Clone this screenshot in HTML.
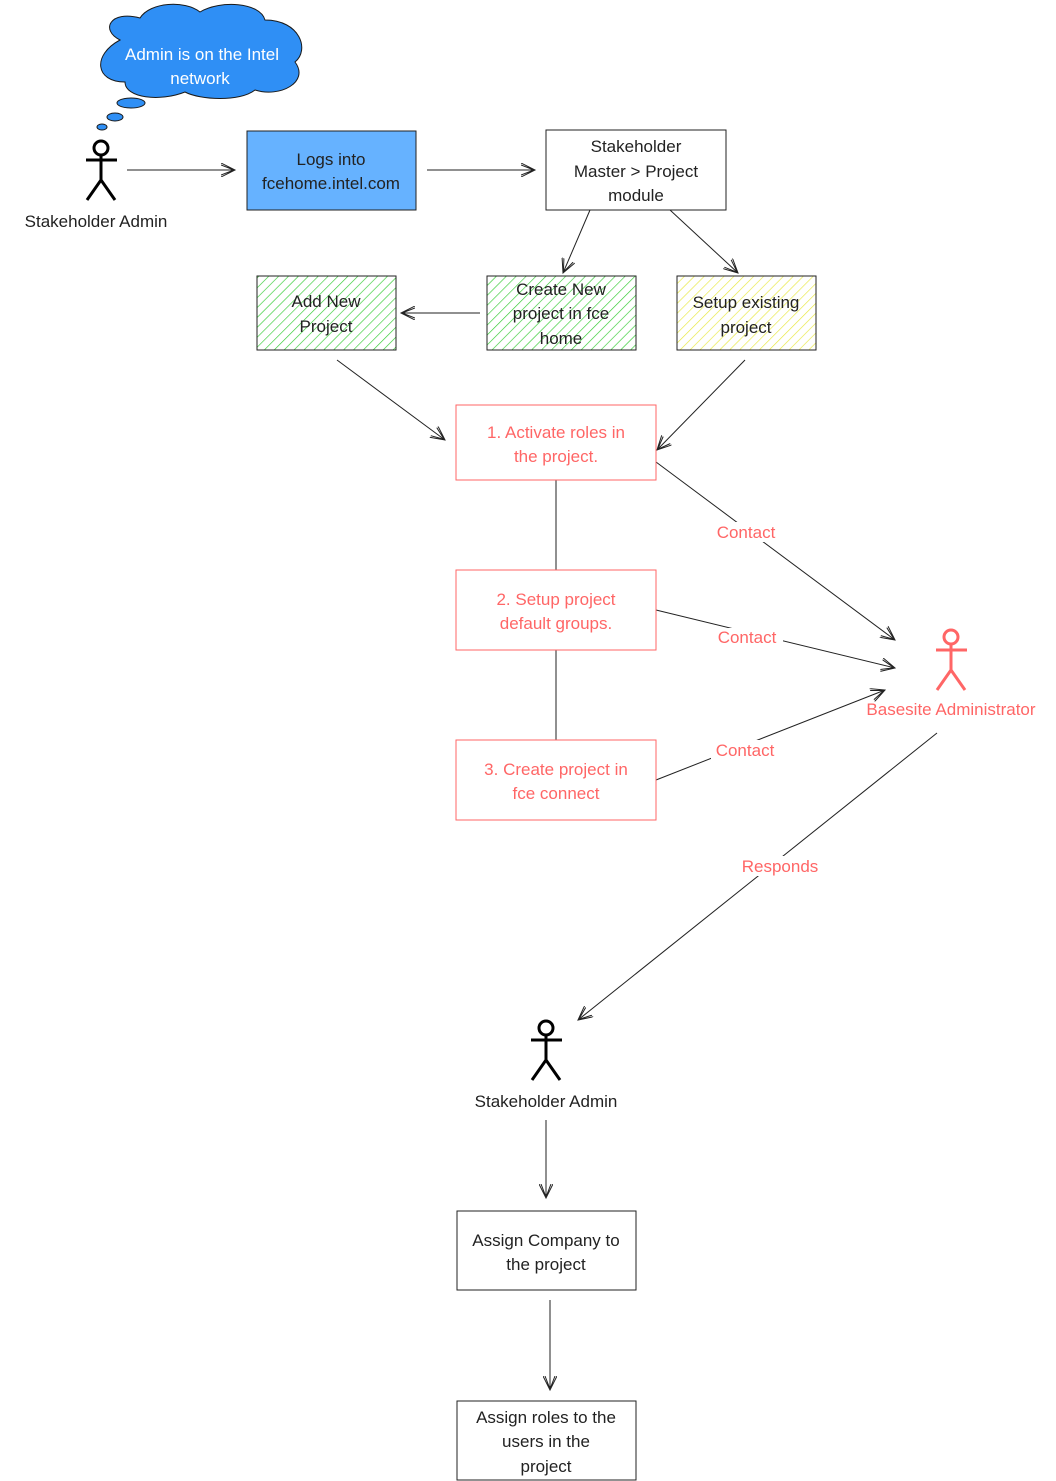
<!DOCTYPE html>
<html><head><meta charset="utf-8"><style>
html,body{margin:0;padding:0;background:#fff}
svg{display:block}
text{font-family:"Liberation Sans",sans-serif;font-size:17px;text-anchor:middle}
</style></head><body>
<svg width="1056" height="1481" viewBox="0 0 1056 1481" xmlns="http://www.w3.org/2000/svg">
<defs>
<pattern id="g" width="7" height="7" patternUnits="userSpaceOnUse" patternTransform="rotate(45)">
<rect width="7" height="7" fill="#fff"/><line x1="0" y1="0" x2="0" y2="7" stroke="#33cc33" stroke-width="1.3"/></pattern>
<pattern id="y" width="7" height="7" patternUnits="userSpaceOnUse" patternTransform="rotate(45)">
<rect width="7" height="7" fill="#fff"/><line x1="0" y1="0" x2="0" y2="7" stroke="#e8e840" stroke-width="1.3"/></pattern>
<marker id="a" markerWidth="16" markerHeight="14" refX="14" refY="7" orient="auto" markerUnits="userSpaceOnUse">
<path d="M0,0 L14,7 L0,14 M0,2 L13,7 L0,12" fill="none" stroke="#222" stroke-width="1"/></marker>
</defs>
<g fill="#2f8ff5" stroke="#1a1a1a" stroke-width="1">
<path d="M120,40 C100,30 110,10 140,18 C150,2 185,0 200,12 C220,0 260,2 265,20 C300,20 310,50 295,62 C310,82 280,98 255,90 C240,102 200,100 185,92 C160,102 125,98 125,82 C95,82 92,55 120,40 Z"/>
<ellipse cx="131" cy="103" rx="14" ry="5"/><ellipse cx="115" cy="117" rx="8" ry="4"/><ellipse cx="102" cy="127" rx="5" ry="3"/>
</g>
<text x="202" y="60" fill="#fff">Admin is on the Intel</text>
<text x="200" y="84" fill="#fff">network</text>
<g stroke="#000" stroke-width="3" fill="none"><circle cx="101" cy="148" r="7"/><path d="M101,155 V180 M86,160 H117 M101,180 L87,200 M101,180 L115,200"/></g>
<text x="96" y="227" fill="#222">Stakeholder Admin</text>
<g stroke="#222" stroke-width="1" fill="none" marker-end="url(#a)">
<path d="M127,170 H235"/><path d="M427,170 H535"/>
<path d="M590,210 L563,273"/><path d="M670,210 L738,273"/>
<path d="M480,313 H401"/><path d="M337,360 L445,440"/><path d="M745,360 L657,450"/>
<path d="M656,462 L895,640"/><path d="M656,610 L895,668"/><path d="M656,780 L885,690"/>
<path d="M937,733 L578,1020"/><path d="M546,1120 V1198"/><path d="M550,1300 V1390"/>
<path d="M556,480 V570" marker-end="none"/><path d="M556,650 V740" marker-end="none"/>
</g>
<rect x="247" y="131" width="169" height="79" fill="#66b2ff" stroke="#222"/>
<text x="331" y="165" fill="#222">Logs into</text><text x="331" y="189" fill="#222">fcehome.intel.com</text>
<rect x="546" y="130" width="180" height="80" fill="#fff" stroke="#222"/>
<text x="636" y="152" fill="#222">Stakeholder</text><text x="636" y="177" fill="#222">Master &gt; Project</text><text x="636" y="201" fill="#222">module</text>
<rect x="257" y="276" width="139" height="74" fill="url(#g)" stroke="#222"/>
<text x="326" y="307" fill="#222">Add New</text><text x="326" y="332" fill="#222">Project</text>
<rect x="487" y="276" width="149" height="74" fill="url(#g)" stroke="#222"/>
<text x="561" y="295" fill="#222">Create New</text><text x="561" y="319" fill="#222">project in fce</text><text x="561" y="344" fill="#222">home</text>
<rect x="677" y="276" width="139" height="74" fill="url(#y)" stroke="#222"/>
<text x="746" y="308" fill="#222">Setup existing</text><text x="746" y="333" fill="#222">project</text>
<g fill="#fff" stroke="#ff6666"><rect x="456" y="405" width="200" height="75"/><rect x="456" y="570" width="200" height="80"/><rect x="456" y="740" width="200" height="80"/></g>
<g fill="#ff6666">
<text x="556" y="438">1. Activate roles in</text><text x="556" y="462">the project.</text>
<text x="556" y="605">2. Setup project</text><text x="556" y="629">default groups.</text>
<text x="556" y="775">3. Create project in</text><text x="556" y="799">fce connect</text>
</g>
<g fill="#fff"><rect x="712" y="522" width="70" height="20"/><rect x="713" y="628" width="70" height="20"/><rect x="711" y="740" width="70" height="20"/><rect x="740" y="856" width="82" height="20"/></g>
<g fill="#ff6666">
<text x="746" y="538">Contact</text><text x="747" y="643">Contact</text><text x="745" y="756">Contact</text><text x="780" y="872">Responds</text>
</g>
<g stroke="#ff6666" stroke-width="3" fill="none"><circle cx="951" cy="637" r="7"/><path d="M951,644 V670 M936,650 H967 M951,670 L937,690 M951,670 L965,690"/></g>
<text x="951" y="715" fill="#ff6666">Basesite Administrator</text>
<g stroke="#000" stroke-width="3" fill="none"><circle cx="546" cy="1028" r="7"/><path d="M546,1035 V1060 M531,1040 H562 M546,1060 L532,1080 M546,1060 L560,1080"/></g>
<text x="546" y="1107" fill="#222">Stakeholder Admin</text>
<rect x="457" y="1211" width="179" height="79" fill="#fff" stroke="#222"/>
<text x="546" y="1246" fill="#222">Assign Company to</text><text x="546" y="1270" fill="#222">the project</text>
<rect x="457" y="1401" width="179" height="79" fill="#fff" stroke="#222"/>
<text x="546" y="1423" fill="#222">Assign roles to the</text><text x="546" y="1447" fill="#222">users in the</text><text x="546" y="1472" fill="#222">project</text>
</svg>
</body></html>
